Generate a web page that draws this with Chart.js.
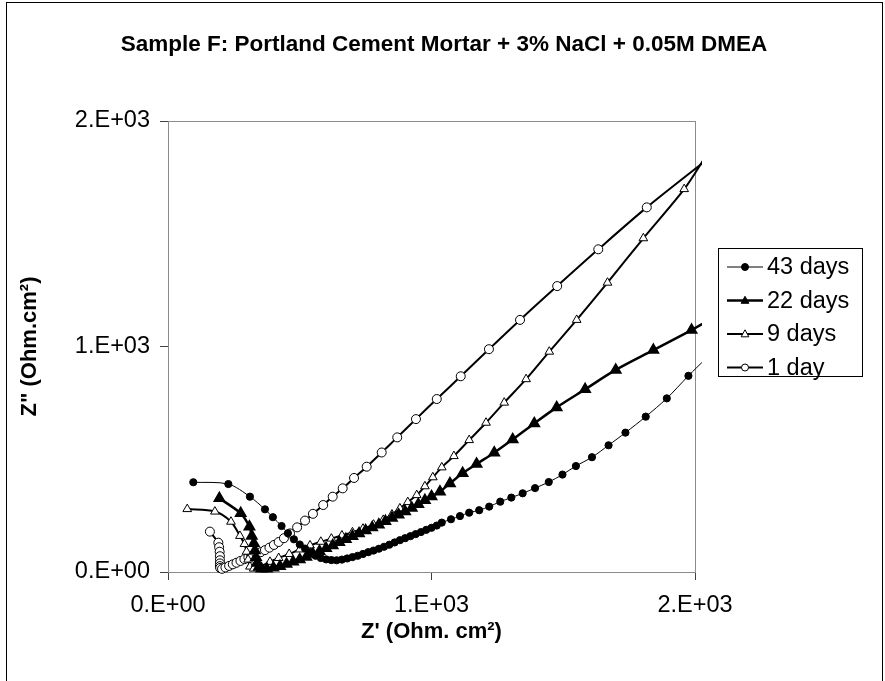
<!DOCTYPE html>
<html>
<head>
<meta charset="utf-8">
<script src="https://cdn.jsdelivr.net/npm/chart.js@4.4.1/dist/chart.umd.min.js"></script>
<style>
  html, body { margin: 0; padding: 0; background: #fff; }
</style>
</head>
<body>
<canvas id="chart" width="885" height="681"></canvas>
<script>
const titleText = 'Sample F: Portland Cement Mortar + 3% NaCl + 0.05M DMEA';
const seriesNames = ['43 days', '22 days', '9 days', '1 day'];
const xTickLabels = ['0.E+00', '1.E+03', '2.E+03'];
const yTickLabels = ['0.E+00', '1.E+03', '2.E+03'];

// Z' / Z'' (Ohm.cm2)
const days43X = [96, 229, 311, 368, 398, 431, 455, 478, 500, 520, 540, 560, 580, 600, 620, 640, 660, 680, 700, 720, 740, 760, 780, 800, 820, 840, 860, 880, 900, 920, 940, 960, 980, 1000, 1020, 1039, 1074, 1108, 1143, 1181, 1219, 1261, 1303, 1346, 1393, 1445, 1497, 1548, 1609, 1672, 1736, 1813, 1893, 1975, 2040];
const days43Y = [398, 390, 334, 278, 243, 204, 172, 145, 122, 104, 88, 72, 62, 56, 53, 52, 55, 60, 66, 72, 80, 88, 95, 103, 112, 121, 131, 141, 150, 159, 168, 177, 187, 196, 206, 219, 234, 248, 263, 274, 290, 312, 330, 349, 372, 399, 432, 470, 509, 562, 618, 689, 770, 870, 945];

const days22X = [195, 276, 309, 318, 326, 330, 334, 338, 345, 355, 375, 400, 425, 450, 475, 500, 525, 550, 575, 600, 625, 650, 675, 700, 725, 750, 775, 800, 825, 850, 875, 900, 925, 950, 975, 1000, 1032, 1070, 1118, 1171, 1238, 1308, 1390, 1475, 1583, 1699, 1842, 1987, 2040];
const days22Y = [327, 260, 201, 160, 127, 95, 65, 40, 22, 14, 14, 19, 26, 35, 45, 55, 67, 80, 92, 105, 118, 132, 145, 158, 171, 184, 197, 210, 225, 240, 254, 268, 284, 300, 318, 335, 356, 393, 438, 479, 529, 588, 659, 730, 810, 896, 984, 1073, 1108];

const days9X = [73, 178, 239, 273, 290, 298, 304, 311, 325, 350, 387, 420, 460, 500, 539, 580, 620, 660, 700, 740, 780, 817, 850, 880, 910, 944, 975, 1005, 1039, 1085, 1143, 1207, 1276, 1359, 1447, 1551, 1668, 1804, 1959, 2040];
const days9Y = [279, 268, 223, 160, 124, 90, 55, 24, 15, 25, 45, 62, 80, 100, 118, 134, 148, 162, 176, 192, 210, 231, 255, 282, 310, 341, 380, 420, 464, 514, 585, 662, 751, 855, 977, 1118, 1283, 1480, 1698, 1842];

const days1X = [159, 191, 194, 196, 197, 197, 197, 197, 198, 205, 218, 232, 246, 260, 275, 290, 305, 320, 336, 352, 368, 385, 402, 420, 440, 463, 490, 520, 550, 589, 625, 663, 706, 754, 811, 870, 941, 1020, 1111, 1218, 1336, 1477, 1633, 1817, 2040];
const days1Y = [179, 130, 110, 90, 70, 52, 38, 26, 18, 14, 20, 27, 34, 41, 49, 57, 65, 72, 80, 88, 97, 108, 120, 133, 150, 171, 198, 228, 258, 297, 334, 371, 417, 467, 530, 597, 678, 767, 868, 988, 1118, 1268, 1431, 1617, 1824];

const toPoints = (xs, ys) => xs.map((x, i) => ({ x: x, y: ys[i] }));
const hideOutside = r => ctx => (ctx.raw && ctx.raw.x > 2000 ? 0 : r);

const ctx = document.querySelector('#chart').getContext('2d');

const chartFrame = {
    id: 'chartFrame',
    beforeDatasetsDraw(chart) {
        const { ctx, chartArea: a } = chart;
        ctx.save();
        ctx.strokeStyle = '#8c8c8c';
        ctx.lineWidth = 1;
        ctx.strokeRect(a.left + 0.5, a.top + 0.5, a.right - a.left, a.bottom - a.top);
        ctx.restore();
    },
    afterDraw(chart) {
        const { ctx } = chart;
        ctx.save();
        // outer border
        ctx.strokeStyle = '#000';
        ctx.lineWidth = 1;
        ctx.strokeRect(6.5, 2.5, 876, 700);
        // title
        ctx.fillStyle = '#000';
        ctx.font = 'bold 22.5px "Liberation Sans", Arial, sans-serif';
        ctx.textAlign = 'center';
        ctx.textBaseline = 'middle';
        ctx.fillText(titleText, 444, 45);
        // legend
        const box = { x: 718.5, y: 248.5, w: 144, h: 128 };
        ctx.fillStyle = '#fff';
        ctx.fillRect(box.x, box.y, box.w, box.h);
        ctx.strokeRect(box.x, box.y, box.w, box.h);
        ctx.font = '23.5px "Liberation Sans", Arial, sans-serif';
        ctx.textAlign = 'left';
        chart.data.datasets.forEach((ds, i) => {
            const y = 267 + i * 33.5;
            ctx.strokeStyle = '#000';
            ctx.lineWidth = ds.borderWidth;
            ctx.beginPath();
            ctx.moveTo(727, y);
            ctx.lineTo(763, y);
            ctx.stroke();
            drawMarker(ctx, ds.legendStyle, ds.pointBackgroundColor, 745, y, 3.5);
            ctx.fillStyle = '#000';
            ctx.fillText(ds.label, 767, y + 1);
        });
        ctx.restore();
    }
};

function drawMarker(ctx, style, fill, x, y, r) {
    ctx.save();
    ctx.fillStyle = fill;
    ctx.strokeStyle = '#000';
    ctx.lineWidth = 1;
    ctx.beginPath();
    if (style === 'triangle') {
        ctx.moveTo(x, y - r * 1.2);
        ctx.lineTo(x + r * 1.1, y + r * 0.8);
        ctx.lineTo(x - r * 1.1, y + r * 0.8);
        ctx.closePath();
    } else {
        ctx.arc(x, y, r, 0, Math.PI * 2);
    }
    ctx.fill();
    ctx.stroke();
    ctx.restore();
}

const tickFont = { family: '"Liberation Sans", Arial, sans-serif', size: 23.5 };
const titleFont = { family: '"Liberation Sans", Arial, sans-serif', size: 22, weight: 'bold' };

const chart = new Chart(ctx, {
    type: 'scatter',
    data: {
        datasets: [{
            label: seriesNames[0],
            data: toPoints(days43X, days43Y),
            showLine: true,
            borderColor: '#000',
            borderWidth: 1,
            pointStyle: 'circle',
            pointRadius: hideOutside(3.6),
            pointBackgroundColor: '#000',
            pointBorderColor: '#000',
            legendStyle: 'circle',
        }, {
            label: seriesNames[1],
            data: toPoints(days22X, days22Y),
            showLine: true,
            borderColor: '#000',
            borderWidth: 2.5,
            pointStyle: 'triangle',
            pointRadius: hideOutside(5),
            pointBackgroundColor: '#000',
            pointBorderColor: '#000',
            legendStyle: 'triangle',
        }, {
            label: seriesNames[2],
            data: toPoints(days9X, days9Y),
            showLine: true,
            borderColor: '#000',
            borderWidth: 2,
            pointStyle: 'triangle',
            pointRadius: hideOutside(5),
            pointBorderWidth: 1,
            pointBackgroundColor: '#fff',
            pointBorderColor: '#000',
            legendStyle: 'triangle',
        }, {
            label: seriesNames[3],
            data: toPoints(days1X, days1Y),
            showLine: true,
            borderColor: '#000',
            borderWidth: 2,
            pointStyle: 'circle',
            pointRadius: hideOutside(4.5),
            pointBorderWidth: 1,
            pointBackgroundColor: '#fff',
            pointBorderColor: '#000',
            legendStyle: 'circle',
        }]
    },
    options: {
        responsive: false,
        animation: false,
        devicePixelRatio: 1,
        layout: {
            padding: { top: 121, right: 190, left: 0, bottom: 0 }
        },
        elements: {
            line: { tension: 0.3 }
        },
        datasets: {
            scatter: { clip: { left: 5, top: 5, right: 7, bottom: 5 } }
        },
        scales: {
            x: {
                type: 'linear',
                min: 0,
                max: 2000,
                afterFit: s => { s.height = 109; },
                ticks: {
                    stepSize: 1000,
                    color: '#000',
                    font: tickFont,
                    padding: 11,
                    maxRotation: 0,
                    callback: v => xTickLabels[v / 1000]
                },
                grid: { drawOnChartArea: false, tickLength: 8, color: '#404040' },
                border: { color: '#404040', width: 1 },
                title: {
                    display: true,
                    text: "Z' (Ohm. cm²)",
                    color: '#000',
                    font: titleFont,
                    padding: { top: 0, bottom: 36 }
                }
            },
            y: {
                type: 'linear',
                min: 0,
                max: 2000,
                afterFit: s => { s.width = 168; },
                ticks: {
                    stepSize: 1000,
                    color: '#000',
                    font: tickFont,
                    padding: 10,
                    callback: v => yTickLabels[v / 1000]
                },
                grid: { drawOnChartArea: false, tickLength: 8, color: '#404040' },
                border: { color: '#404040', width: 1 },
                title: {
                    display: true,
                    text: 'Z" (Ohm.cm²)',
                    color: '#000',
                    font: titleFont,
                    padding: { top: 17, bottom: 0 }
                }
            }
        },
        plugins: {
            legend: { display: false },
            tooltip: { enabled: false }
        }
    },
    plugins: [chartFrame]
});
</script>
</body>
</html>
